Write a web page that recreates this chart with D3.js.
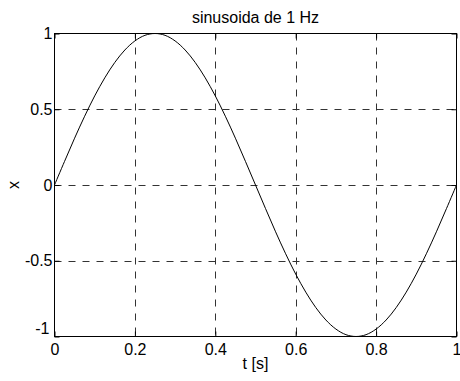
<!DOCTYPE html>
<html>
<head>
<meta charset="utf-8">
<script src="https://cdn.jsdelivr.net/npm/d3@7"></script>
<style>
  html, body { margin: 0; padding: 0; background: #fff; }
  svg { display: block; }
  text { font-family: "Liberation Sans", Arial, Helvetica, sans-serif; fill: #000; }
</style>
</head>
<body>
<svg id="chart" width="460" height="381"></svg>
<script>
// Sampled signal: time in seconds and amplitude
const tValues = [
  0.000, 0.025, 0.050, 0.075, 0.100, 0.125, 0.150, 0.175, 0.200, 0.225,
  0.250, 0.275, 0.300, 0.325, 0.350, 0.375, 0.400, 0.425, 0.450, 0.475,
  0.500, 0.525, 0.550, 0.575, 0.600, 0.625, 0.650, 0.675, 0.700, 0.725,
  0.750, 0.775, 0.800, 0.825, 0.850, 0.875, 0.900, 0.925, 0.950, 0.975,
  1.000
];
const xValues = [
  0.000, 0.156, 0.309, 0.454, 0.588, 0.707, 0.809, 0.891, 0.951, 0.988,
  1.000, 0.988, 0.951, 0.891, 0.809, 0.707, 0.588, 0.454, 0.309, 0.156,
  0.000, -0.156, -0.309, -0.454, -0.588, -0.707, -0.809, -0.891, -0.951, -0.988,
  -1.000, -0.988, -0.951, -0.891, -0.809, -0.707, -0.588, -0.454, -0.309, -0.156,
  0.000
];
const xTicks = [0, 0.2, 0.4, 0.6, 0.8, 1];
const yTicks = [-1, -0.5, 0, 0.5, 1];
const titleText = "sinusoida de 1 Hz";
const xLabelText = "t [s]";
const yLabelText = "x";

const svg = d3.select("#chart");
const plotLeft = 54.5, plotRight = 456.5, plotTop = 33.5, plotBottom = 336.5;

const x = d3.scaleLinear().domain([0, 1]).range([plotLeft, plotRight]);
const y = d3.scaleLinear().domain([-1, 1]).range([plotBottom, plotTop]);

// Dashed grid lines (interior ticks only)
const grid = svg.append("g")
  .attr("stroke", "#333")
  .attr("stroke-width", 1)
  .attr("stroke-dasharray", "7,7")
  .attr("fill", "none");
grid.selectAll("line.v")
  .data(xTicks.filter(d => d > 0 && d < 1))
  .join("line")
  .attr("class", "v")
  .attr("x1", d => Math.round(x(d)) + 0.5).attr("x2", d => Math.round(x(d)) + 0.5)
  .attr("y1", plotTop).attr("y2", plotBottom);
grid.selectAll("line.h")
  .data(yTicks.filter(d => d > -1 && d < 1))
  .join("line")
  .attr("class", "h")
  .attr("y1", d => Math.round(y(d)) + 0.5).attr("y2", d => Math.round(y(d)) + 0.5)
  .attr("x1", plotLeft).attr("x2", plotRight);

// Axes with short inward ticks
const fmt = d => (d === 0 ? "0" : String(d));
const axisFont = 16;

const gx = svg.append("g").attr("transform", `translate(0,${plotBottom})`)
  .call(d3.axisBottom(x).tickValues(xTicks).tickFormat(fmt).tickSize(-5).tickPadding(7));
const gy = svg.append("g").attr("transform", `translate(${plotLeft},0)`)
  .call(d3.axisLeft(y).tickValues(yTicks).tickFormat(fmt).tickSize(-5).tickPadding(2));
const gxt = svg.append("g").attr("transform", `translate(0,${plotTop})`)
  .call(d3.axisTop(x).tickValues(xTicks).tickFormat("").tickSize(-5));
const gyr = svg.append("g").attr("transform", `translate(${plotRight},0)`)
  .call(d3.axisRight(y).tickValues(yTicks).tickFormat("").tickSize(-5));

[gx, gy, gxt, gyr].forEach(g => {
  g.select(".domain").remove();
  g.selectAll(".tick line").attr("stroke", "#000");
  g.selectAll("text")
    .attr("font-size", axisFont)
    .attr("font-family", "Liberation Sans, Arial, sans-serif")
    .attr("fill", "#000");
});
// lowest y label is nudged up and left to clear the x labels
gy.selectAll(".tick").filter(d => d === -1).select("text")
  .attr("dy", "-0.18em").attr("x", -5);

// Signal curve
const line = d3.line()
  .x((d, i) => x(tValues[i]))
  .y(d => y(d))
  .curve(d3.curveCatmullRom);
svg.append("path")
  .datum(xValues)
  .attr("fill", "none")
  .attr("stroke", "#000")
  .attr("stroke-width", 1)
  .attr("d", line);

// Plot box
svg.append("rect")
  .attr("x", plotLeft).attr("y", plotTop)
  .attr("width", plotRight - plotLeft).attr("height", plotBottom - plotTop)
  .attr("fill", "none").attr("stroke", "#000").attr("stroke-width", 1);

// Title and axis labels
svg.append("text")
  .attr("x", (plotLeft + plotRight) / 2).attr("y", 23)
  .attr("text-anchor", "middle").attr("font-size", 16)
  .text(titleText);
svg.append("text")
  .attr("x", (plotLeft + plotRight) / 2).attr("y", 368.5)
  .attr("text-anchor", "middle").attr("font-size", 16)
  .text(xLabelText);
svg.append("text")
  .attr("transform", `translate(19,${(plotTop + plotBottom) / 2}) rotate(-90)`)
  .attr("text-anchor", "middle").attr("font-size", 16)
  .text(yLabelText);
</script>
</body>
</html>
